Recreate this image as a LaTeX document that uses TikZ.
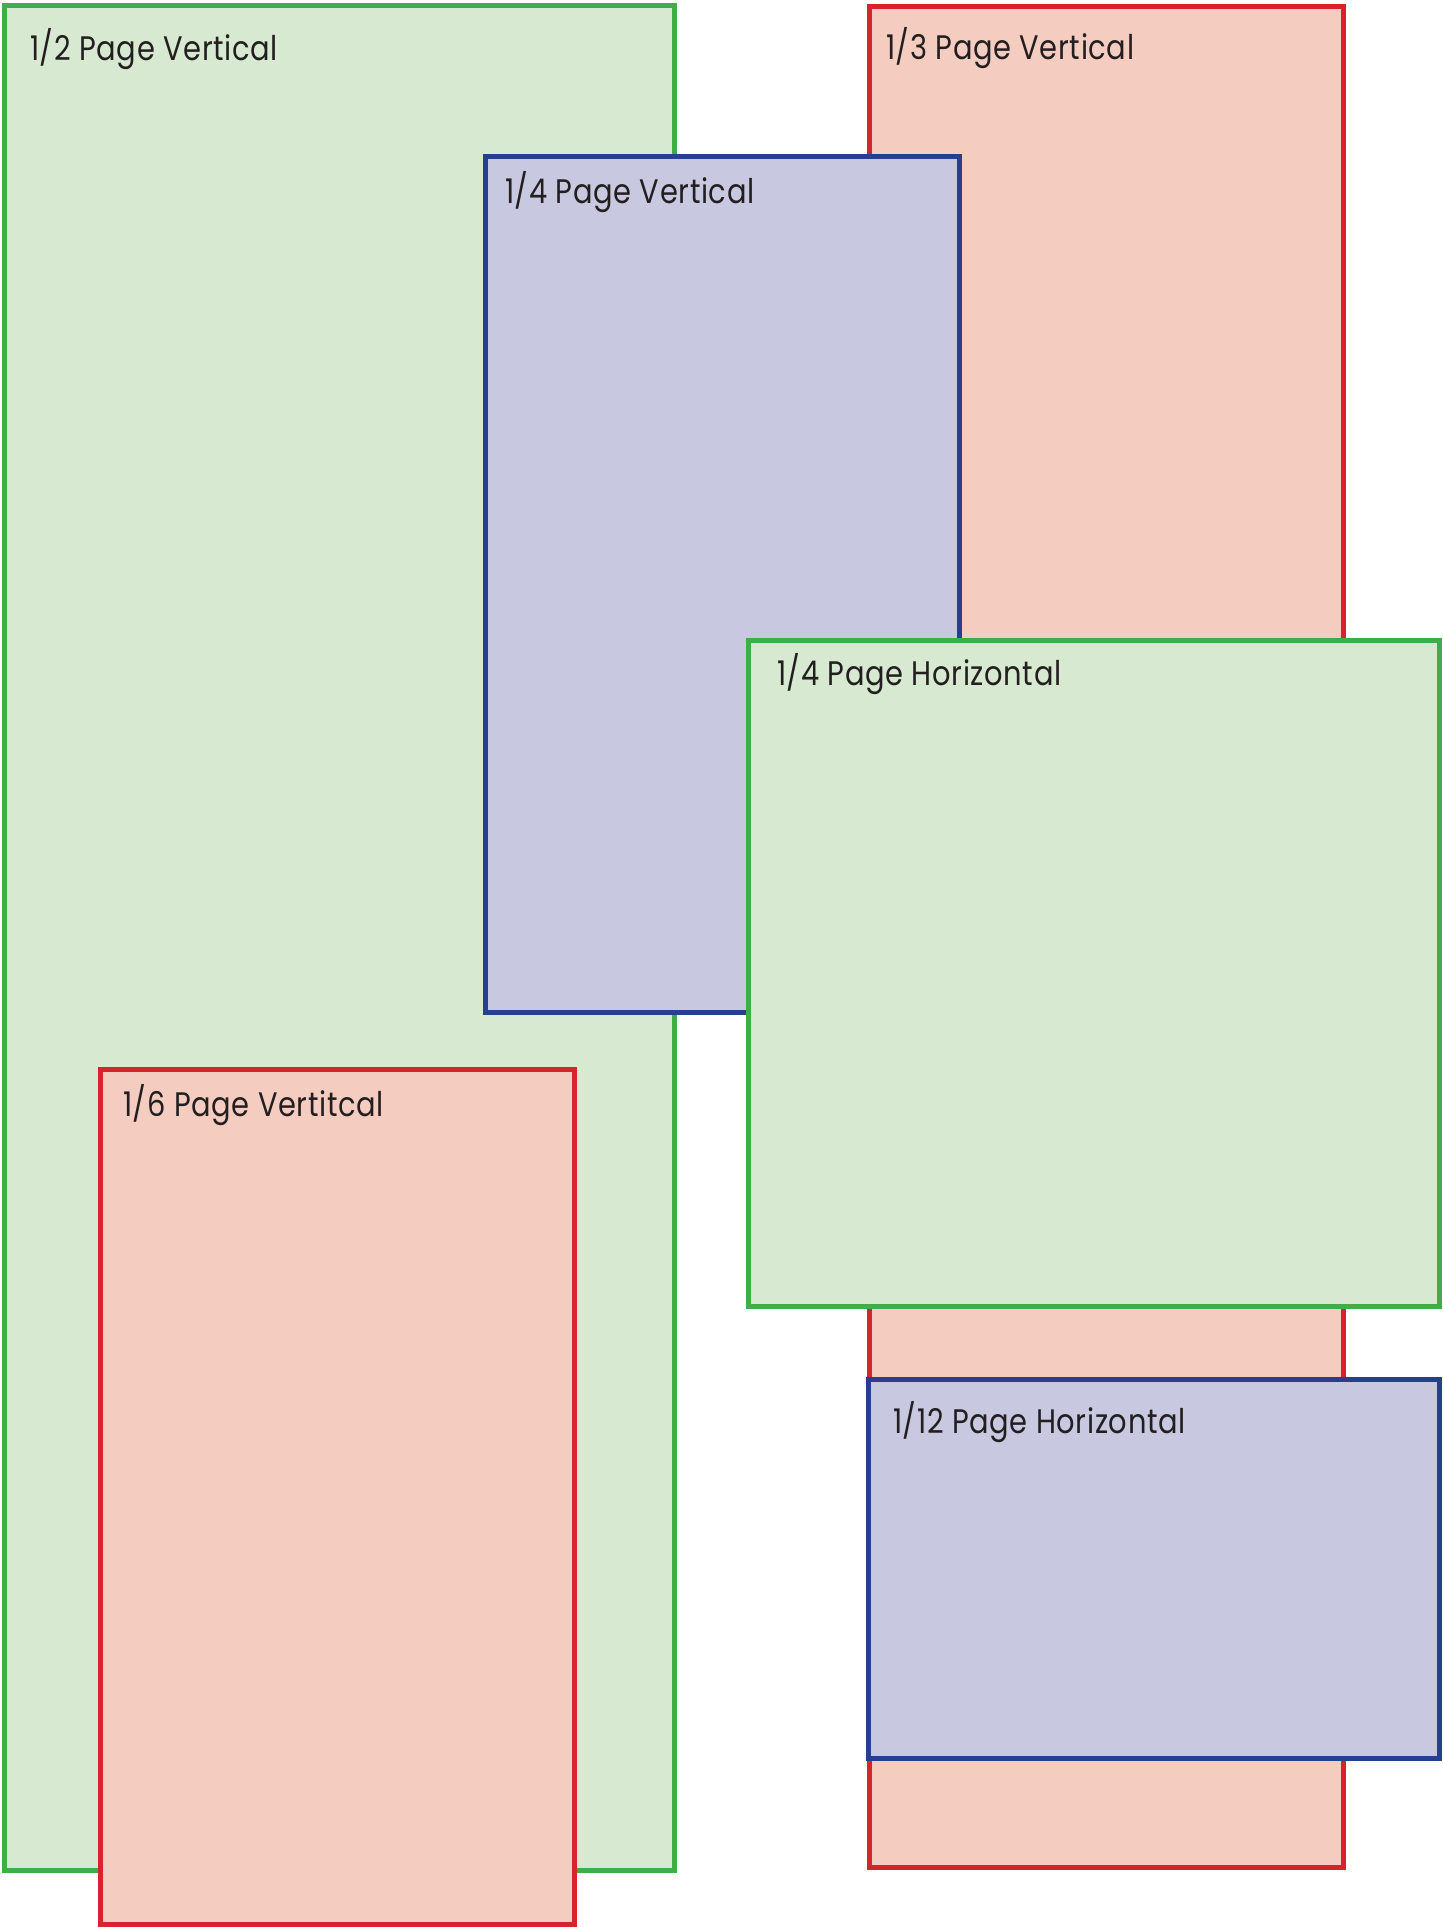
\documentclass[tikz,border=0pt]{standalone}
\usepackage{fontspec}
\setmainfont{Poppins}[FakeStretch=0.85,LetterSpace=1.9]
\definecolor{gstroke}{HTML}{3FAE4A}
\definecolor{gfill}{HTML}{D7E9D1}
\definecolor{rstroke}{HTML}{D6232E}
\definecolor{rfill}{HTML}{F4CDC0}
\definecolor{bstroke}{HTML}{263F8F}
\definecolor{bfill}{HTML}{C8C8E0}
\definecolor{txt}{HTML}{231F20}
\begin{document}
\begin{tikzpicture}[x=0.5pt,y=-0.5pt,
  box/.style={rectangle, inner sep=0pt, outer sep=0pt, line width=2.5pt, anchor=north west},
  gbox/.style={box, draw=gstroke, fill=gfill},
  rbox/.style={box, draw=rstroke, fill=rfill},
  bbox/.style={box, draw=bstroke, fill=bfill},
  lbl/.style={anchor=base west, inner sep=0pt, outer sep=0pt, text=txt, font=\fontsize{17}{20}\selectfont}]
\useasboundingbox (0,0) rectangle (1442,1927);
\node[gbox, minimum width=335pt, minimum height=932.25pt] (half) at (4.5,5.5) {};
\node[rbox, minimum width=237pt, minimum height=930.75pt] (third) at (869.5,6) {};
\node[bbox, minimum width=237.25pt, minimum height=427.75pt] (quarterv) at (485,156.5) {};
\node[gbox, minimum width=345.5pt, minimum height=333.25pt] (quarterh) at (748.5,640) {};
\node[rbox, minimum width=237pt, minimum height=427.75pt] (sixth) at (100.5,1069) {};
\node[bbox, minimum width=285.5pt, minimum height=189.5pt] (twelfth) at (868.5,1379.5) {};
\node[lbl] (lhalf) at (30,61) {1/2 Page Vertical};
\node[lbl] (lthird) at (886,59) {1/3 Page Vertical};
\node[lbl] (lquarterv) at (505,203) {1/4 Page Vertical};
\node[lbl] (lquarterh) at (777,685) {1/4 Page Horizontal};
\node[lbl] (lsixth) at (123,1116) {1/6 Page Vertitcal};
\node[lbl] (ltwelfth) at (893,1433) {1/12 Page Horizontal};
\end{tikzpicture}
\end{document}
